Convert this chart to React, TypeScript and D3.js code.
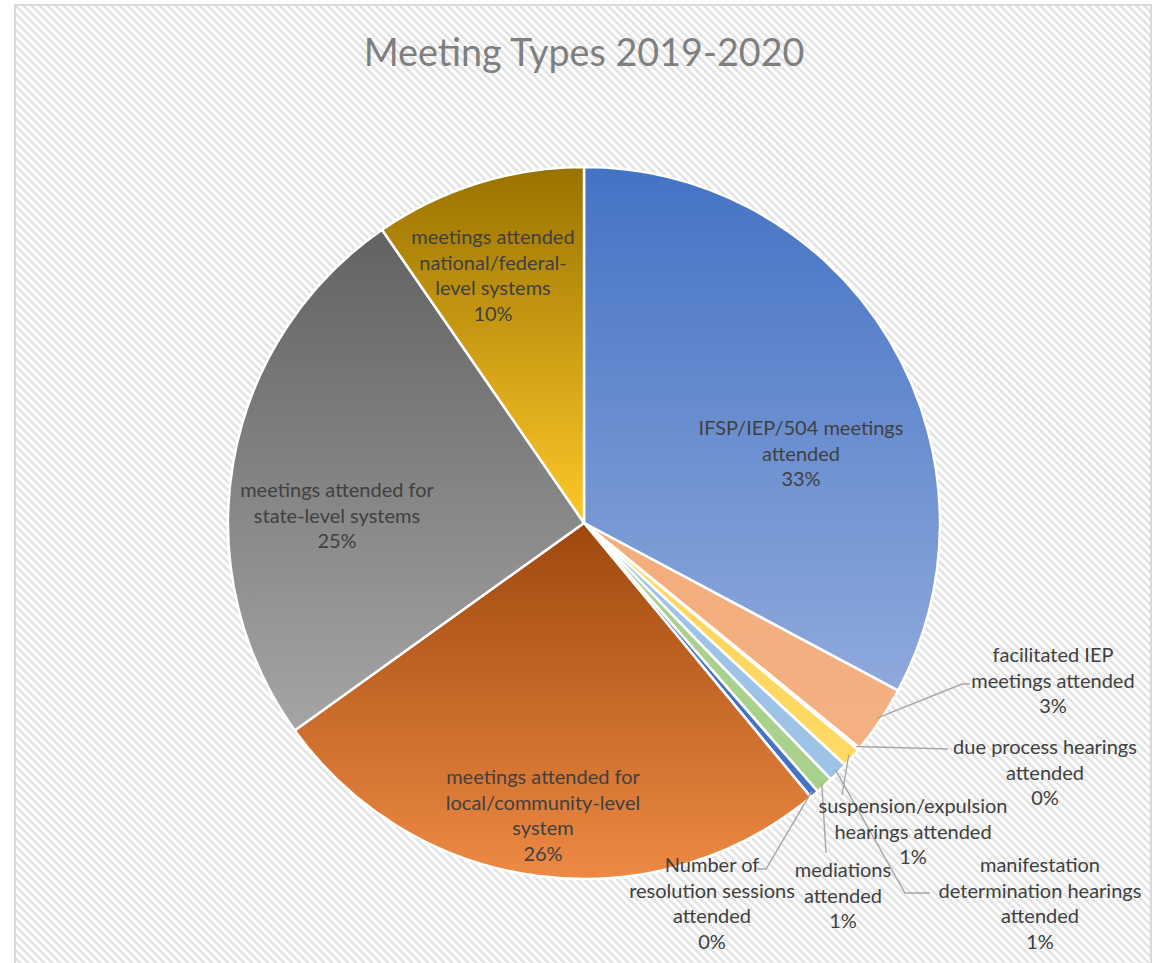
import React, { useEffect, useRef } from "react";
import * as d3 from "d3";

const categories = [
  "IFSP/IEP/504 meetings attended",
  "facilitated IEP meetings attended",
  "due process hearings attended",
  "suspension/expulsion hearings attended",
  "manifestation determination hearings attended",
  "mediations attended",
  "Number of resolution sessions attended",
  "meetings attended for local/community-level system",
  "meetings attended for state-level systems",
  "meetings attended national/federal-level systems",
];

// share of all meetings, in percent
const shares = [32.8, 3.1, 0.1, 0.9, 0.9, 0.8, 0.4, 26.1, 25.3, 9.6];

const labelLines = [
  ["IFSP/IEP/504 meetings", "attended"],
  ["facilitated IEP", "meetings attended"],
  ["due process hearings", "attended"],
  ["suspension/expulsion", "hearings attended"],
  ["manifestation", "determination hearings", "attended"],
  ["mediations", "attended"],
  ["Number of", "resolution sessions", "attended"],
  ["meetings attended for", "local/community-level", "system"],
  ["meetings attended for", "state-level systems"],
  ["meetings attended", "national/federal-", "level systems"],
];

// top / bottom colour of each slice gradient
const sliceColors = [
  ["#4472C4", "#8FAADC"],
  ["#F4AC7C", "#F4B183"],
  ["#B8B8B8", "#C9C9C9"],
  ["#FFD75E", "#FFD966"],
  ["#9DC3E6", "#9DC3E6"],
  ["#A9D18E", "#A9D18E"],
  ["#4472C4", "#4472C4"],
  ["#9E480E", "#EE8A44"],
  ["#626262", "#A5A5A5"],
  ["#997300", "#FFC729"],
];

// label placement: centre of first line, plus leader bend points
const labelLayout: { x: number; y: number; leader?: [number, number][] }[] = [
  { x: 801, y: 428 },
  { x: 1053, y: 655, leader: [[962, 684], [970, 684]] },
  { x: 1045, y: 747, leader: [[948, 749]] },
  { x: 913, y: 806, leader: [[842, 795]] },
  { x: 1040, y: 865, leader: [[905, 893], [930, 893]] },
  { x: 843, y: 870, leader: [[826, 853]] },
  { x: 712, y: 865, leader: [[766, 869], [757, 869]] },
  { x: 543, y: 777 },
  { x: 337, y: 490 },
  { x: 493, y: 237 },
];

const W = 1160;
const H = 963;
const cx = 584;
const cy = 523;
const radius = 356;
const lineH = 25.6;
const font = "Lato, 'Open Sans', sans-serif";

const App = () => {
  const ref = useRef<SVGSVGElement>(null);

  useEffect(() => {
    const svg = d3.select(ref.current);
    svg.selectAll("*").remove();

    const defs = svg.append("defs");
    const pat = defs
      .append("pattern")
      .attr("id", "hatch")
      .attr("patternUnits", "userSpaceOnUse")
      .attr("width", 5.66)
      .attr("height", 5.66)
      .attr("patternTransform", "rotate(-45)");
    pat.append("rect").attr("width", 5.66).attr("height", 5.66).attr("fill", "#ffffff");
    pat.append("rect").attr("width", 2.6).attr("height", 5.66).attr("fill", "#e2e2e2");

    sliceColors.forEach((c, i) => {
      const g = defs
        .append("linearGradient")
        .attr("id", `grad${i}`)
        .attr("x1", 0)
        .attr("y1", 0)
        .attr("x2", 0)
        .attr("y2", 1);
      g.append("stop").attr("offset", "0%").attr("stop-color", c[0]);
      g.append("stop").attr("offset", "100%").attr("stop-color", c[1]);
    });

    svg.append("rect").attr("width", W).attr("height", H).attr("fill", "#ffffff");
    svg
      .append("rect")
      .attr("x", 15)
      .attr("y", 5)
      .attr("width", 1136)
      .attr("height", 990)
      .attr("fill", "url(#hatch)")
      .attr("stroke", "#d9d9d9")
      .attr("stroke-width", 2);

    svg
      .append("text")
      .attr("x", cx)
      .attr("y", 66)
      .attr("text-anchor", "middle")
      .attr("font-family", font)
      .attr("font-size", 37.7)
      .attr("fill", "#7f7f7f")
      .text("Meeting Types 2019-2020");

    const pie = d3
      .pie<number>()
      .sort(null)
      .value((d) => d);
    const arcs = pie(shares);

    const arc = d3
      .arc<d3.PieArcDatum<number>>()
      .innerRadius(0)
      .outerRadius(radius);

    const g = svg.append("g").attr("transform", `translate(${cx},${cy})`);
    g.selectAll("path.slice")
      .data(arcs)
      .enter()
      .append("path")
      .attr("class", "slice")
      .attr("d", arc)
      .attr("fill", (_, i) => `url(#grad${i})`)
      .attr("stroke", "#ffffff")
      .attr("stroke-width", 2.5)
      .attr("stroke-linejoin", "round");

    // leader lines
    const fmt = d3.format(".0%");
    arcs.forEach((a, i) => {
      const lay = labelLayout[i];
      if (!lay.leader) return;
      const mid = (a.startAngle + a.endAngle) / 2;
      const r = radius - 4;
      const start: [number, number] = [cx + r * Math.sin(mid), cy - r * Math.cos(mid)];
      svg
        .append("path")
        .attr("d", d3.line()([start, ...lay.leader]))
        .attr("fill", "none")
        .attr("stroke", "#a6a6a6")
        .attr("stroke-width", 1.4);
    });

    // data labels
    arcs.forEach((a, i) => {
      const lay = labelLayout[i];
      const lines = [...labelLines[i], fmt(Math.round(shares[i]) / 100)];
      const t = svg
        .append("text")
        .attr("text-anchor", "middle")
        .attr("font-family", font)
        .attr("font-size", 20)
        .attr("fill", "#404040");
      lines.forEach((ln, k) => {
        t.append("tspan")
          .attr("x", lay.x)
          .attr("y", lay.y + k * lineH)
          .attr("dy", "0.35em")
          .text(ln);
      });
    });
  });

  return (
    <svg
      ref={ref}
      width={W}
      height={H}
      style={{ position: "absolute", left: 0, top: 0, display: "block" }}
    />
  );
};

export default App;
